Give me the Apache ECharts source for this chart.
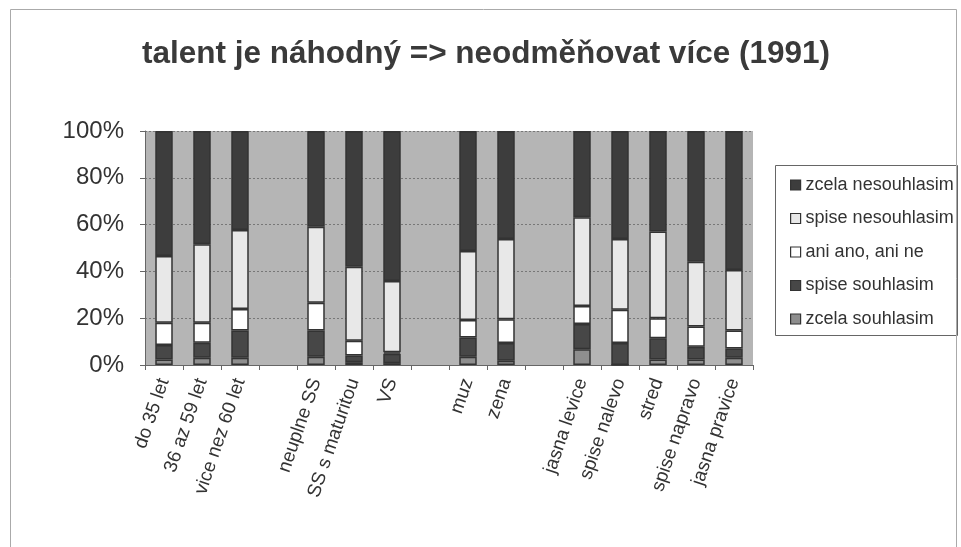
<!DOCTYPE html>
<html><head><meta charset="utf-8">
<script src="https://cdn.jsdelivr.net/npm/echarts@6/dist/echarts.min.js"></script>
<style>html,body{margin:0;padding:0;background:#fff}#c{width:961px;height:547px}</style>
</head><body><div id="c"></div>
<script>
const categories = ['do 35 let','36 az 59 let','vice nez 60 let','','neuplne SS','SS s maturitou','VS','','muz','zena','','jasna levice','spise nalevo','stred','spise napravo','jasna pravice'];
const yTicks = ['0%','20%','40%','60%','80%','100%'];
const zcelaSouhlasim    = [2.4, 3.1, 3.1, '-', 3.5, 1.2, 0.8, '-', 3.5, 1.8, '-', 6.7, 0.0, 2.4, 2.4, 3.1];
const spiseSouhlasim    = [6.1, 6.4, 11.6, '-', 11.2, 2.9, 4.0, '-', 8.2, 7.6, '-', 10.8, 9.4, 9.0, 5.4, 3.9];
const aniAnoAniNe       = [9.6, 8.6, 9.2, '-', 11.9, 6.3, 0.6, '-', 7.5, 10.1, '-', 7.7, 14.2, 8.6, 8.6, 7.7];
const spiseNesouhlasim  = [28.5, 33.5, 33.8, '-', 32.5, 31.6, 30.5, '-', 29.5, 34.3, '-', 37.9, 30.2, 37.0, 27.7, 25.9];
const zcelaNesouhlasim  = [53.4, 48.4, 42.3, '-', 40.9, 58.0, 64.1, '-', 51.3, 46.2, '-', 36.9, 46.2, 43.0, 55.9, 59.4];
const seriesNames = ['zcela souhlasim','spise souhlasim','ani ano, ani ne','spise nesouhlasim','zcela nesouhlasim'];
const seriesData = [zcelaSouhlasim, spiseSouhlasim, aniAnoAniNe, spiseNesouhlasim, zcelaNesouhlasim];
const colors = ['#8e8e8e','#474747','#ffffff','#e8e8e8','#3d3d3d'];

const chart = echarts.init(document.getElementById('c'));
const font = 'Liberation Sans, Arial, sans-serif';
chart.setOption({
  animation: false,
  backgroundColor: '#fff',
  title: {
    text: 'talent je náhodný => neodměňovat více (1991)',
    left: 481, top: 33, textAlign: 'center',
    textStyle: {fontFamily: font, fontWeight: 'bold', fontSize: 31.5, color: '#3a3a3a'}
  },
  graphic: [
    {type:'rect', shape:{x:10.5,y:9.5,width:946,height:560}, style:{fill:'none',stroke:'#aaaaaa',lineWidth:1}, silent:true},
    {type:'rect', shape:{x:775.5,y:165.5,width:182,height:170}, style:{fill:'#fff',stroke:'#666',lineWidth:1}, silent:true, z:-1}
  ],
  legend: {
    data: seriesNames.slice().reverse(),
    orient: 'vertical', left: 785, top: 170, itemGap: 13.5,
    itemWidth: 10, itemHeight: 10, icon: 'rect',
    textStyle: {fontFamily: font, fontSize: 18, lineHeight: 20, color: '#333'},
    itemStyle: {borderColor: '#333', borderWidth: 1.2}
  },
  grid: {left: 145, right: 208, top: 131, bottom: 182, show: true, backgroundColor: '#b5b5b5', borderWidth: 0},
  xAxis: {
    type: 'category', data: categories,
    axisLine: {lineStyle: {color: '#666', width: 1}},
    axisTick: {show: true, alignWithLabel: false, lineStyle: {color: '#666'}, length: 5},
    axisLabel: {rotate: 71, interval: 0, fontFamily: font, fontSize: 19, color: '#333', margin: 14}
  },
  yAxis: {
    type: 'value', min: 0, max: 100, interval: 20,
    axisLine: {show: true, lineStyle: {color: '#666'}},
    axisTick: {show: true, inside: false, length: 5, lineStyle: {color: '#666'}},
    axisLabel: {fontFamily: font, fontSize: 24, color: '#333', margin: 21,
      formatter: v => yTicks[v/20]},
    splitLine: {show: true, lineStyle: {color: '#777', type: [2,2], width: 1}}
  },
  series: seriesNames.map((n, i) => ({
    name: n, type: 'bar', stack: 'all', barWidth: '46%',
    data: seriesData[i],
    itemStyle: {color: colors[i], borderColor: '#333', borderWidth: 1.5}
  }))
});
</script></body></html>
